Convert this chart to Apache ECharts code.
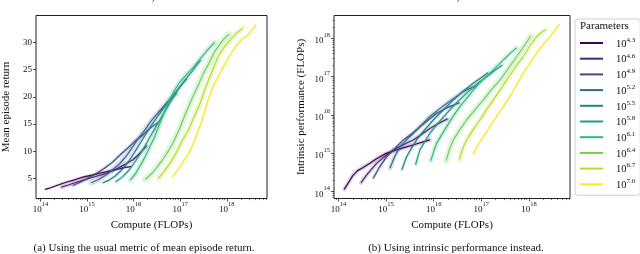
<!DOCTYPE html>
<html><head><meta charset="utf-8">
<script src="https://cdn.jsdelivr.net/npm/echarts@6/dist/echarts.min.js"></script>
<style>html,body{margin:0;padding:0;background:#fff}#c{width:640px;height:254px}</style>
</head><body><div id="c"></div>
<script>
const FONT = 'Liberation Serif';
const paramLabels = ['4.3','4.6','4.9','5.2','5.5','5.8','6.1','6.4','6.7','7.0'];
const colors = ['#440154','#482878','#3e4989','#31688e','#26828e','#1f9e89','#35b779','#6ece58','#b5de2b','#fde725'];
const xTickExps = [14, 15, 16, 17, 18];
const yTicksLeft = [5, 10, 15, 20, 25, 30];
const yTickExpsRight = [14, 15, 16, 17, 18];
const xRange = [13.905, 18.864];
const yRangeLeft = [1.32, 34.93];
const yRangeRight = [13.823, 18.595];

// Left panel: [log10 compute (FLOPs), mean episode return]
const ret43 = [[14.10,3.0],[14.22,3.3],[14.35,3.7],[14.55,4.3],[14.75,4.8],[14.93,5.3],[15.1,5.6],[15.29,6.0],[15.45,6.3],[15.63,6.65],[15.8,7.0],[15.95,7.2]];
const ret46 = [[14.45,3.4],[14.6,3.8],[14.8,4.4],[15.0,4.9],[15.2,5.4],[15.4,5.9],[15.6,6.6],[15.8,7.5],[15.98,8.4],[16.12,9.5],[16.28,11.0]];
const ret49 = [[14.70,3.7],[14.85,4.3],[15.0,5.0],[15.2,5.9],[15.36,6.8],[15.55,8.0],[15.72,9.4],[15.9,10.8],[16.05,12.0],[16.2,13.0],[16.35,14.2],[16.53,15.3]];
const ret52 = [[15.09,4.2],[15.25,4.8],[15.4,5.6],[15.55,6.6],[15.7,7.7],[15.85,9.2],[15.98,10.8],[16.1,12.3],[16.25,14.0],[16.4,15.8],[16.55,17.3],[16.7,18.8],[16.82,19.8],[16.92,20.6]];
const ret55 = [[15.34,4.2],[15.45,4.6],[15.6,5.4],[15.75,6.6],[15.9,8.2],[16.05,10.2],[16.2,12.3],[16.35,14.3],[16.5,16.2],[16.65,18.0],[16.8,19.7],[16.95,21.3],[17.05,22.4],[17.14,23.3]];
const ret58 = [[15.62,4.4],[15.75,5.2],[15.9,6.5],[16.05,8.3],[16.2,10.3],[16.35,12.6],[16.5,14.8],[16.65,17.0],[16.8,19.2],[16.95,21.3],[17.1,23.0],[17.25,24.6],[17.35,25.8],[17.44,26.7]];
const ret61 = [[15.93,4.7],[16.05,6.0],[16.2,8.2],[16.32,10.3],[16.45,12.6],[16.56,15.0],[16.7,18.0],[16.85,20.8],[17.0,22.8],[17.15,24.2],[17.3,25.6],[17.45,27.2],[17.6,28.7],[17.74,30.0]];
const ret64 = [[16.25,4.8],[16.4,6.0],[16.55,7.6],[16.7,9.4],[16.85,11.6],[16.98,14.0],[17.1,16.6],[17.25,19.6],[17.38,22.0],[17.5,24.3],[17.62,26.2],[17.74,28.3],[17.88,30.0],[17.97,30.9],[18.05,31.5]];
const ret67 = [[16.53,5.0],[16.65,6.2],[16.8,8.0],[16.92,9.8],[17.04,11.9],[17.18,13.9],[17.3,16.4],[17.4,18.2],[17.5,20.6],[17.6,22.9],[17.7,25.0],[17.81,27.3],[17.95,29.2],[18.09,30.6],[18.2,31.6],[18.34,32.6]];
const ret70 = [[16.83,5.3],[16.95,6.5],[17.04,7.8],[17.18,9.5],[17.32,12.2],[17.46,15.5],[17.6,19.4],[17.7,21.8],[17.81,23.6],[17.92,25.4],[18.02,26.9],[18.14,28.6],[18.26,30.0],[18.35,30.7],[18.44,31.2],[18.53,32.2],[18.63,33.2]];

// Right panel: [log10 compute (FLOPs), log10 intrinsic performance (FLOPs)]
const perf43 = [[14.12,14.06],[14.2,14.22],[14.3,14.42],[14.4,14.55],[14.5,14.62],[14.66,14.74],[14.8,14.86],[15.0,15.0],[15.2,15.08],[15.43,15.17],[15.65,15.25],[15.92,15.35]];
const perf46 = [[14.47,14.23],[14.6,14.45],[14.8,14.74],[15.0,14.95],[15.15,15.09],[15.35,15.22],[15.57,15.35],[15.75,15.5],[15.92,15.65],[16.1,15.78],[16.29,15.9]];
const perf49 = [[14.73,14.35],[14.85,14.62],[15.01,14.91],[15.2,15.15],[15.36,15.35],[15.55,15.52],[15.71,15.69],[15.9,15.88],[16.06,16.04],[16.3,16.2],[16.54,16.32]];
const perf52 = [[15.08,14.61],[15.18,14.92],[15.29,15.17],[15.43,15.35],[15.57,15.52],[15.75,15.75],[15.92,15.96],[16.1,16.14],[16.27,16.3],[16.45,16.46],[16.62,16.61],[16.75,16.69],[16.89,16.76]];
const perf55 = [[15.33,14.57],[15.43,14.91],[15.53,15.13],[15.64,15.35],[15.8,15.6],[15.99,15.87],[16.2,16.13],[16.41,16.39],[16.62,16.62],[16.83,16.83],[17.0,16.98],[17.14,17.1]];
const perf58 = [[15.62,14.71],[15.71,15.09],[15.82,15.32],[15.92,15.52],[16.1,15.8],[16.27,16.04],[16.48,16.32],[16.69,16.57],[16.9,16.8],[17.11,17.0],[17.28,17.16],[17.44,17.3]];
const perf61 = [[15.94,14.81],[16.0,15.05],[16.06,15.26],[16.15,15.45],[16.27,15.69],[16.4,15.95],[16.55,16.22],[16.7,16.45],[16.83,16.65],[17.0,16.88],[17.18,17.09],[17.32,17.26],[17.46,17.43],[17.6,17.6],[17.74,17.75]];
const perf64 = [[16.26,14.81],[16.33,15.1],[16.41,15.35],[16.55,15.62],[16.69,15.87],[16.86,16.13],[17.04,16.39],[17.2,16.64],[17.39,16.91],[17.56,17.2],[17.74,17.52],[17.9,17.8],[18.04,18.06]];
const perf67 = [[16.54,14.84],[16.6,15.1],[16.69,15.35],[16.83,15.62],[16.97,15.87],[17.1,16.12],[17.25,16.39],[17.4,16.66],[17.53,16.91],[17.7,17.22],[17.88,17.52],[18.02,17.8],[18.16,18.04],[18.26,18.15],[18.36,18.23]];
const perf70 = [[16.83,14.98],[16.93,15.22],[17.04,15.43],[17.18,15.7],[17.32,15.96],[17.46,16.22],[17.6,16.48],[17.74,16.78],[17.88,17.09],[18.02,17.36],[18.16,17.61],[18.3,17.84],[18.44,18.04],[18.55,18.22],[18.64,18.37]];

const leftCurves = [ret43, ret46, ret49, ret52, ret55, ret58, ret61, ret64, ret67, ret70];
const rightCurves = [perf43, perf46, perf49, perf52, perf55, perf58, perf61, perf64, perf67, perf70];
// width of the shaded spread band drawn behind each curve
const leftBand = [2.5, 4, 3.5, 5.5, 3, 3.5, 5.5, 6.5, 5.5, 2.5];
const rightBand = [4, 4, 3, 4.5, 3, 3, 5, 6, 5, 2.5];

function minorExps(lo, hi) {
  const out = [];
  for (let n = Math.floor(lo); n <= Math.ceil(hi); n++) {
    for (let k = 2; k <= 9; k++) {
      const v = n + Math.log10(k);
      if (v > lo && v < hi) out.push(v);
    }
  }
  return out;
}

const powRich = {
  b: {fontSize: 9, fontFamily: FONT, color: '#111', lineHeight: 14, verticalAlign: 'bottom'},
  s: {fontSize: 6.5, fontFamily: FONT, color: '#111', lineHeight: 7, verticalAlign: 'top'}
};
const powFmt = v => '{b|10}{s|' + Math.round(v) + '}';

const chart = echarts.init(document.getElementById('c'), null, {renderer: 'canvas'});

const gridBase = {top: 15.5, height: 183, width: 236, show: true, borderColor: '#222', borderWidth: 1, containLabel: false};

function majorX(gi) {
  return {type: 'value', gridIndex: gi, position: 'bottom', min: xRange[0], max: xRange[1],
    name: 'Compute (FLOPs)', nameLocation: 'middle', nameGap: 16,
    nameTextStyle: {fontFamily: FONT, fontSize: 11, color: '#111'},
    axisLine: {show: false}, splitLine: {show: false},
    axisTick: {show: true, customValues: xTickExps, length: 3, lineStyle: {color: '#222', width: 0.8}},
    axisLabel: {customValues: xTickExps, formatter: powFmt, margin: 2, rich: powRich}};
}
function minorX(gi) {
  return {type: 'value', gridIndex: gi, position: 'bottom', min: xRange[0], max: xRange[1],
    axisLine: {show: false}, splitLine: {show: false}, axisLabel: {show: false},
    axisTick: {show: true, customValues: minorExps(xRange[0], xRange[1]), length: 1.6, lineStyle: {color: '#222', width: 0.6}}};
}

const series = [];
function addCurves(curves, bands, xi, yi) {
  curves.forEach((c, i) => {
    series.push({type: 'line', name: paramLabels[i] + ' band', xAxisIndex: xi, yAxisIndex: yi, data: c,
      symbol: 'none', silent: true, z: 1, animation: false,
      lineStyle: {color: colors[i], width: bands[i], opacity: 0.2, cap: 'round', join: 'round'}});
  });
}
function addMain(curves, xi, yi) {
  curves.forEach((c, i) => {
    series.push({type: 'line', name: paramLabels[i], xAxisIndex: xi, yAxisIndex: yi, data: c,
      symbol: 'none', showSymbol: false, z: 2, animation: false, color: colors[i],
      lineStyle: {color: colors[i], width: 1.2, join: 'round'}});
  });
}
addCurves(leftCurves, leftBand, 0, 0);
addCurves(rightCurves, rightBand, 2, 1);
addMain(leftCurves, 0, 0);
addMain(rightCurves, 2, 1);

const option = {
  backgroundColor: '#fff',
  animation: false,
  grid: [Object.assign({left: 31}, gridBase), Object.assign({left: 334}, gridBase)],
  xAxis: [majorX(0), minorX(0), majorX(1), minorX(1)],
  yAxis: [
    {type: 'value', gridIndex: 0, min: yRangeLeft[0], max: yRangeLeft[1],
      name: 'Mean episode return', nameLocation: 'middle', nameGap: 24,
      nameTextStyle: {fontFamily: FONT, fontSize: 11, color: '#111'},
      axisLine: {show: false}, splitLine: {show: false},
      axisTick: {show: true, customValues: yTicksLeft, length: 3, lineStyle: {color: '#222', width: 0.8}},
      axisLabel: {customValues: yTicksLeft, fontFamily: FONT, fontSize: 9, color: '#111', margin: 4}},
    {type: 'value', gridIndex: 1, position: 'left', min: yRangeRight[0], max: yRangeRight[1],
      name: 'Intrinsic performance (FLOPs)', nameLocation: 'middle', nameGap: 27,
      nameTextStyle: {fontFamily: FONT, fontSize: 11, color: '#111'},
      axisLine: {show: false}, splitLine: {show: false},
      axisTick: {show: true, customValues: yTickExpsRight, length: 3, lineStyle: {color: '#222', width: 0.8}},
      axisLabel: {customValues: yTickExpsRight, formatter: powFmt, margin: 4, rich: powRich}},
    {type: 'value', gridIndex: 1, position: 'left', min: yRangeRight[0], max: yRangeRight[1],
      axisLine: {show: false}, splitLine: {show: false}, axisLabel: {show: false},
      axisTick: {show: true, customValues: minorExps(yRangeRight[0], yRangeRight[1]), length: 1.6, lineStyle: {color: '#222', width: 0.6}}}
  ],
  legend: {
    data: paramLabels, orient: 'vertical', left: 575, top: 19,
    padding: [17.5, 5, 4.5, 5], itemWidth: 23, itemHeight: 2, itemGap: 2.7, icon: 'rect',
    borderColor: '#d0d0d0', borderWidth: 1, borderRadius: 3, backgroundColor: '#fff', z: 3,
    formatter: n => '{b|10}{s|' + n + '}',
    textStyle: {padding: [0, 0, 0, 5], rich: {
      b: {fontSize: 10.5, fontFamily: FONT, color: '#111', lineHeight: 13, verticalAlign: 'bottom', padding: [0, 0, 0, 3]},
      s: {fontSize: 7, fontFamily: FONT, color: '#111', lineHeight: 8, verticalAlign: 'top'}
    }}
  },
  graphic: [
    {type: 'text', left: 580, top: 20.5, z: 100, style: {text: 'Parameters', font: '11px "' + FONT + '"', fill: '#111'}},
    {type: 'text', x: 145, y: 3, style: {text: 'StarPilot, hard', font: '11px "' + FONT + '"', fill: '#111', align: 'center', verticalAlign: 'bottom'}},
    {type: 'text', x: 450, y: 3, style: {text: 'StarPilot, hard', font: '11px "' + FONT + '"', fill: '#111', align: 'center', verticalAlign: 'bottom'}},
    {type: 'text', x: 144, y: 248, style: {text: '(a) Using the usual metric of mean episode return.', font: '11px "' + FONT + '"', fill: '#111', align: 'center', verticalAlign: 'middle'}},
    {type: 'text', x: 456, y: 248, style: {text: '(b) Using intrinsic performance instead.', font: '11px "' + FONT + '"', fill: '#111', align: 'center', verticalAlign: 'middle'}}
  ],
  series: series
};
chart.setOption(option);
</script>
</body></html>
